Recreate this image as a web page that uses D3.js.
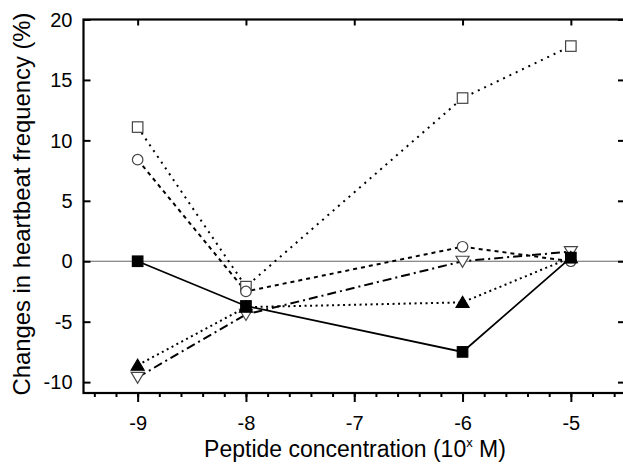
<!DOCTYPE html>
<html><head><meta charset="utf-8">
<script src="https://cdn.jsdelivr.net/npm/d3@7"></script>
<style>body{margin:0;background:#fff}svg{display:block}text{font-family:"Liberation Sans",Arial,sans-serif;fill:#000}</style>
</head><body><svg id="c" width="623" height="465"></svg>
<script>
const concentrations = [-9, -8, -6, -5];
const filledSquare = [0, -3.7, -7.5, 0.3];
const openSquare = [11.1, -2.1, 13.5, 17.8];
const openCircle = [8.4, -2.5, 1.2, 0];
const filledTriangle = [-8.6, -3.8, -3.4, 0.3];
const openTriangleDown = [-9.6, -4.4, 0, 0.8];
const xTicks = [-9, -8, -7, -6, -5];
const yTicks = [-10, -5, 0, 5, 10, 15, 20];

const series = [
  {values: openSquare, marker: "square", fill: false, dash: "2,5"},
  {values: openCircle, marker: "circle", fill: false, dash: "4,4"},
  {values: openTriangleDown, marker: "tridown", fill: false, dash: "9,4,2,4"},
  {values: filledTriangle, marker: "triup", fill: true, dash: "2,3.5"},
  {values: filledSquare, marker: "square", fill: true, dash: null}
];

const svg = d3.select("#c");
const L = 83.5, R = 625, T = 19.5, B = 393;
const x = d3.scaleLinear().domain([-9.5, -4.5]).range([L, R]);
const y = d3.scaleLinear().domain([-10.9, 20]).range([B, T]);

// zero line
svg.append("line").attr("x1", L).attr("x2", R).attr("y1", y(0)).attr("y2", y(0))
  .attr("stroke", "#666").attr("stroke-width", 1.2);

const xMinor = d3.range(-9.4, -4.5, 0.2).map(v => +v.toFixed(2));
const yMinor = d3.range(-10, 20.1, 1);

// bottom axis (outward ticks)
const gB = svg.append("g").attr("transform", `translate(0,${B})`);
gB.call(d3.axisBottom(x).tickValues(xMinor).tickSize(4).tickFormat(""));
gB.call(g => g.selectAll(".domain").remove());
const gB2 = svg.append("g").attr("transform", `translate(0,${B})`);
gB2.call(d3.axisBottom(x).tickValues(xTicks).tickSize(9).tickPadding(14).tickFormat(d => String(d)));
gB2.select(".domain").remove();
gB2.selectAll("text").attr("font-size", 20).attr("fill", "#000");

// top axis (inward ticks)
const gT = svg.append("g").attr("transform", `translate(0,${T})`);
gT.call(d3.axisBottom(x).tickValues(xMinor).tickSize(3).tickFormat(""));
gT.call(d3.axisBottom(x).tickValues(xTicks).tickSize(6).tickFormat(""));
gT.selectAll(".domain").remove();

// left axis (inward ticks)
const gL = svg.append("g").attr("transform", `translate(${L},0)`);
gL.call(d3.axisRight(y).tickValues(yMinor).tickSize(3).tickFormat(""));
gL.call(d3.axisRight(y).tickValues(yTicks).tickSize(7).tickFormat(""));
gL.selectAll(".domain").remove();
svg.append("g").selectAll("text").data(yTicks).join("text")
  .attr("x", L - 11).attr("y", d => y(d)).attr("dy", "0.36em")
  .attr("text-anchor", "end").attr("font-size", 20).text(d => String(d));

// right axis (inward ticks)
const gR = svg.append("g").attr("transform", `translate(${R},0)`);
gR.call(d3.axisLeft(y).tickValues(yMinor).tickSize(3).tickFormat(""));
gR.call(d3.axisLeft(y).tickValues(yTicks).tickSize(7).tickFormat(""));
gR.selectAll(".domain").remove();

svg.selectAll(".tick line").attr("stroke", "#000").attr("stroke-width", 2);

// frame
svg.append("rect").attr("x", L).attr("y", T).attr("width", R - L).attr("height", B - T)
  .attr("fill", "none").attr("stroke", "#000").attr("stroke-width", 2.2);

// lines
const line = d3.line().x((d, i) => x(concentrations[i])).y(d => y(d));
series.forEach(s => {
  svg.append("path").attr("d", line(s.values)).attr("fill", "none")
    .attr("stroke", "#000").attr("stroke-width", s.dash ? 2 : 1.8)
    .attr("stroke-dasharray", s.dash);
});

// markers
const sz = 10.5;
series.forEach(s => {
  const g = svg.append("g");
  s.values.forEach((v, i) => {
    const cx = x(concentrations[i]), cy = y(v);
    const fill = s.fill ? "#000" : "#fff";
    const stroke = s.fill ? "#000" : "#444";
    let el;
    if (s.marker === "square") {
      el = g.append("rect").attr("x", cx - sz / 2).attr("y", cy - sz / 2).attr("width", sz).attr("height", sz);
    } else if (s.marker === "circle") {
      el = g.append("circle").attr("cx", cx).attr("cy", cy).attr("r", sz / 2);
    } else if (s.marker === "triup") {
      el = g.append("path").attr("d", `M${cx},${cy - 6}L${cx + 6.5},${cy + 5}L${cx - 6.5},${cy + 5}Z`);
    } else {
      el = g.append("path").attr("d", `M${cx},${cy + 6}L${cx + 6.5},${cy - 5}L${cx - 6.5},${cy - 5}Z`);
    }
    el.attr("fill", fill).attr("stroke", stroke).attr("stroke-width", 1.2);
  });
});

// titles
const xt = svg.append("text").attr("x", 355).attr("y", 457).attr("text-anchor", "middle").attr("font-size", 23);
xt.append("tspan").text("Peptide concentration (10");
xt.append("tspan").attr("font-size", 13).attr("dy", -10).text("x");
xt.append("tspan").attr("dy", 10).text(" M)");

svg.append("text").attr("transform", `translate(30,204) rotate(-90)`)
  .attr("text-anchor", "middle").attr("font-size", 24)
  .attr("textLength", 383).attr("lengthAdjust", "spacingAndGlyphs")
  .text("Changes in heartbeat frequency (%)");
</script></body></html>
